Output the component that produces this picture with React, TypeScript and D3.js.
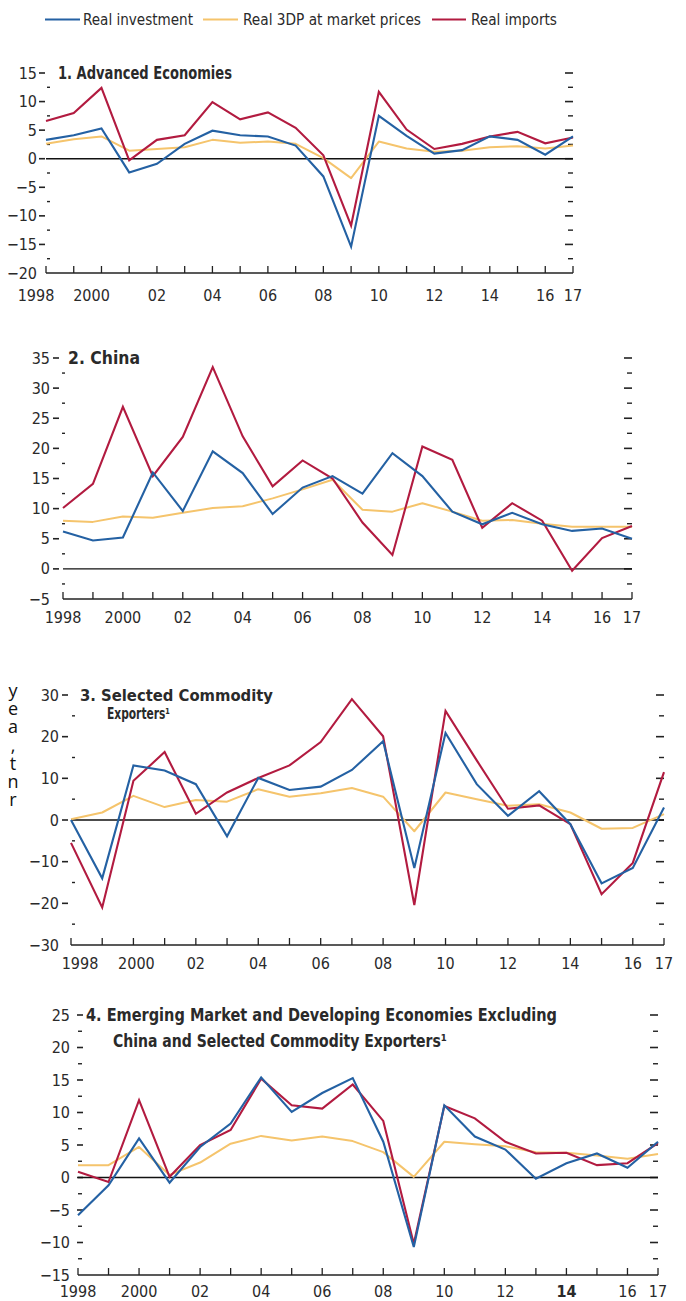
import React from "react";
import * as d3 from "d3";

// ---- Data (annual percent change) ----
const YEARS = [1998, 1999, 2000, 2001, 2002, 2003, 2004, 2005, 2006, 2007, 2008, 2009, 2010, 2011, 2012, 2013, 2014, 2015, 2016, 2017];

const X_TICK_LABELS: [number, string][] = [
  [1998, "1998"], [2000, "2000"], [2002, "02"], [2004, "04"], [2006, "06"],
  [2008, "08"], [2010, "10"], [2012, "12"], [2014, "14"], [2016, "16"], [2017, "17"],
];

const SERIES_NAMES = ["Real investment", "Real GDP at market prices", "Real imports"];
const LEGEND_LABELS = ["Real investment", "Real 3DP at market prices", "Real imports"];

// 1. Advanced Economies
const ADV_INVESTMENT = [3.3, 4.1, 5.3, -2.4, -0.9, 2.6, 4.9, 4.1, 3.9, 2.3, -3.1, -15.4, 7.5, 4.0, 0.9, 1.5, 3.9, 3.3, 0.7, 3.9];
const ADV_GDP = [2.6, 3.4, 3.9, 1.4, 1.7, 2.0, 3.3, 2.8, 3.0, 2.6, 0.1, -3.4, 3.0, 1.8, 1.2, 1.4, 2.0, 2.2, 1.8, 2.3];
const ADV_IMPORTS = [6.6, 8.0, 12.4, -0.3, 3.3, 4.1, 9.9, 6.9, 8.1, 5.4, 0.6, -11.7, 11.7, 5.1, 1.7, 2.6, 3.9, 4.7, 2.7, 3.7];

// 2. China
const CHN_INVESTMENT = [6.2, 4.7, 5.2, 16.0, 9.6, 19.5, 15.9, 9.1, 13.5, 15.4, 12.5, 19.2, 15.4, 9.5, 7.4, 9.3, 7.4, 6.3, 6.7, 5.0];
const CHN_GDP = [8.0, 7.8, 8.7, 8.5, 9.3, 10.1, 10.4, 11.7, 13.2, 14.8, 9.8, 9.5, 10.9, 9.5, 8.0, 8.1, 7.5, 7.0, 7.0, 7.0];
const CHN_IMPORTS = [10.1, 14.1, 26.9, 15.4, 21.9, 33.5, 22.0, 13.7, 18.0, 15.0, 7.7, 2.3, 20.3, 18.1, 6.8, 10.9, 8.0, -0.3, 5.1, 7.1];

// 3. Selected Commodity Exporters
const CMD_INVESTMENT = [0.0, -14.0, 13.1, 11.9, 8.6, -3.9, 10.1, 7.2, 8.0, 12.0, 18.9, -11.5, 20.9, 8.6, 1.0, 6.9, -1.0, -15.2, -11.5, 3.0];
const CMD_GDP = [0.2, 1.8, 5.8, 3.1, 4.8, 4.4, 7.4, 5.6, 6.4, 7.7, 5.6, -2.7, 6.6, 5.0, 3.4, 3.8, 1.8, -2.1, -1.9, 1.4];
const CMD_IMPORTS = [-5.5, -21.0, 9.4, 16.3, 1.5, 6.6, 10.1, 13.1, 18.7, 29.0, 20.1, -20.4, 26.2, 14.3, 2.7, 3.5, -1.0, -17.8, -10.3, 11.5];

// 4. EMDEs excluding China and selected commodity exporters
const EMD_INVESTMENT = [-5.8, -1.2, 6.0, -0.8, 4.7, 8.3, 15.4, 10.1, 13.0, 15.3, 5.5, -10.7, 11.1, 6.3, 4.3, -0.2, 2.2, 3.7, 1.5, 5.5];
const EMD_GDP = [1.9, 1.9, 4.7, 0.4, 2.3, 5.2, 6.4, 5.7, 6.3, 5.6, 3.9, 0.1, 5.5, 5.1, 4.8, 3.9, 3.8, 3.4, 2.9, 3.6];
const EMD_IMPORTS = [0.9, -0.7, 11.9, 0.1, 5.0, 7.3, 15.2, 11.1, 10.6, 14.3, 8.7, -10.2, 11.0, 9.1, 5.5, 3.7, 3.8, 1.9, 2.2, 5.3];

// ---- Styling ----
const COLORS = { investment: "#2461a3", gdp: "#f5c46c", imports: "#b21b40" };
const NARROW = "'Liberation Sans Narrow', 'DejaVu Sans Condensed', 'Roboto Condensed', 'Liberation Sans', Arial, sans-serif";

type Panel = {
  key: string;
  investment: number[];
  gdp: number[];
  imports: number[];
  domain: [number, number];
  major: number;
  minor: number;
  left: number;
  right: number;
  top: number;
  bottom: number;
  title: { text: string; x: number; y: number; w: number; size: number }[];
  majorTick: [number, number];
  minorTick: [number, number];
  labelEnd: number;
  xLabelY: number;
  xLabelShift: Record<number, number>;
  boldLabels: number[];
};

const PANELS: Panel[] = [
  {
    key: "adv",
    investment: ADV_INVESTMENT, gdp: ADV_GDP, imports: ADV_IMPORTS,
    domain: [-20, 15], major: 5, minor: 2.5,
    left: 46, right: 573, top: 73, bottom: 273,
    title: [{ text: "1. Advanced Economies", x: 58, y: 78.5, w: 174, size: 17 }],
    majorTick: [-7, -1], minorTick: [1, 4], labelEnd: -9,
    xLabelY: 301, xLabelShift: { 1998: -10, 2000: -10 }, boldLabels: [],
  },
  {
    key: "chn",
    investment: CHN_INVESTMENT, gdp: CHN_GDP, imports: CHN_IMPORTS,
    domain: [-5, 35], major: 5, minor: 2.5,
    left: 63, right: 632, top: 358, bottom: 599,
    title: [{ text: "2. China", x: 68, y: 364, w: 72, size: 17 }],
    majorTick: [-10, -4], minorTick: [-1, 2], labelEnd: -13,
    xLabelY: 623, xLabelShift: {}, boldLabels: [],
  },
  {
    key: "cmd",
    investment: CMD_INVESTMENT, gdp: CMD_GDP, imports: CMD_IMPORTS,
    domain: [-30, 30], major: 10, minor: 5,
    left: 71, right: 664, top: 695, bottom: 945,
    title: [
      { text: "3. Selected Commodity", x: 80, y: 700.5, w: 193, size: 16 },
      { text: "Exporters\u00B9", x: 107, y: 719, w: 63, size: 16 },
    ],
    majorTick: [-9, -3], minorTick: [1, 4], labelEnd: -12,
    xLabelY: 969, xLabelShift: { 1998: 9, 2000: 3 }, boldLabels: [],
  },
  {
    key: "emd",
    investment: EMD_INVESTMENT, gdp: EMD_GDP, imports: EMD_IMPORTS,
    domain: [-15, 25], major: 5, minor: 2.5,
    left: 78, right: 658, top: 1015, bottom: 1275,
    title: [
      { text: "4. Emerging Market and Developing Economies Excluding", x: 86, y: 1021, w: 471, size: 17 },
      { text: "China and Selected Commodity Exporters\u00B9", x: 113, y: 1047, w: 334, size: 17 },
    ],
    majorTick: [-1, 5], minorTick: [0, 4], labelEnd: -8,
    xLabelY: 1297, xLabelShift: {}, boldLabels: [2014],
  },
];

// Right-hand ends of a neighbouring text column, one glyph per line
const SIDE_TEXT = "yea,tnr";

const fmt = (v: number) => (v < 0 ? "\u2212" + Math.abs(v) : String(v));

function ChartPanel({ p }: { p: Panel }) {
  const x = d3.scaleLinear().domain([YEARS[0], YEARS[YEARS.length - 1]]).range([p.left, p.right]);
  const y = d3.scaleLinear().domain(p.domain).range([p.bottom, p.top]);
  const line = d3
    .line<[number, number]>()
    .x((d) => x(d[0]))
    .y((d) => y(d[1]));
  const pts = (vals: number[]) => YEARS.map((yr, i) => [yr, vals[i]] as [number, number]);

  const majors = d3.range(p.domain[0], p.domain[1] + 0.001, p.major);
  const minors = d3.range(p.domain[0] + p.minor, p.domain[1], p.major);

  return (
    <g>
      {/* left ticks and labels */}
      {majors.map((v) => (
        <g key={"ml" + v}>
          {v !== p.domain[0] && (
            <line x1={p.left + p.majorTick[0]} x2={p.left + p.majorTick[1]} y1={y(v)} y2={y(v)} stroke="#222" strokeWidth={1.6} />
          )}
          <text x={p.left + p.labelEnd} y={y(v) + 5.5} textAnchor="end" fontFamily={NARROW} fontSize={16} fill="#2a2a2a">
            {fmt(v)}
          </text>
        </g>
      ))}
      {minors.map((v) => (
        <line key={"nl" + v} x1={p.left + p.minorTick[0]} x2={p.left + p.minorTick[1]} y1={y(v)} y2={y(v)} stroke="#222" strokeWidth={1.4} />
      ))}
      {/* right ticks */}
      {majors.filter((v) => v !== p.domain[0]).map((v) => (
        <line key={"mr" + v} x1={p.right - 8} x2={p.right} y1={y(v)} y2={y(v)} stroke="#222" strokeWidth={1.6} />
      ))}
      {minors.map((v) => (
        <line key={"nr" + v} x1={p.right - 5} x2={p.right} y1={y(v)} y2={y(v)} stroke="#222" strokeWidth={1.4} />
      ))}
      {/* x axis */}
      <line x1={p.left} x2={p.right} y1={p.bottom} y2={p.bottom} stroke="#222" strokeWidth={1.5} />
      {YEARS.map((yr) => (
        <line key={"xt" + yr} x1={x(yr)} x2={x(yr)} y1={p.bottom} y2={p.bottom - 7} stroke="#222" strokeWidth={1.3} />
      ))}
      {X_TICK_LABELS.map(([yr, t]) => (
        <text
          key={"xl" + yr}
          x={x(yr) + (p.xLabelShift[yr] || 0)}
          y={p.xLabelY}
          textAnchor="middle"
          fontFamily={NARROW}
          fontSize={16}
          fontWeight={p.boldLabels.includes(yr) ? "bold" : "normal"}
          fill="#2a2a2a"
        >
          {t}
        </text>
      ))}
      {/* zero line */}
      <line x1={p.left} x2={p.right} y1={y(0)} y2={y(0)} stroke="#111" strokeWidth={1.4} />
      {/* series */}
      <path d={line(pts(p.gdp)) || ""} fill="none" stroke={COLORS.gdp} strokeWidth={2} strokeLinejoin="round" />
      <path d={line(pts(p.imports)) || ""} fill="none" stroke={COLORS.imports} strokeWidth={2.1} strokeLinejoin="miter" />
      <path d={line(pts(p.investment)) || ""} fill="none" stroke={COLORS.investment} strokeWidth={2.1} strokeLinejoin="miter" />
      {/* title */}
      {p.title.map((t, i) => (
        <text
          key={"t" + i}
          x={t.x}
          y={t.y}
          fontFamily={NARROW}
          fontSize={t.size}
          fontWeight="bold"
          fill="#2a2a2a"
          textLength={t.w}
          lengthAdjust="spacingAndGlyphs"
        >
          {t.text}
        </text>
      ))}
    </g>
  );
}

function Legend() {
  const items = [
    { color: COLORS.investment, label: LEGEND_LABELS[0], x0: 45, x1: 80, tx: 83, tw: 110 },
    { color: COLORS.gdp, label: LEGEND_LABELS[1], x0: 203, x1: 238, tx: 243, tw: 178 },
    { color: COLORS.imports, label: LEGEND_LABELS[2], x0: 432, x1: 466, tx: 471, tw: 86 },
  ];
  return (
    <g>
      {items.map((it, i) => (
        <g key={SERIES_NAMES[i]}>
          <line x1={it.x0} x2={it.x1} y1={19.5} y2={19.5} stroke={it.color} strokeWidth={2.2} />
          <text
            x={it.tx}
            y={25}
            fontFamily={NARROW}
            fontSize={15}
            fill="#2a2a2a"
            textLength={it.tw}
            lengthAdjust="spacingAndGlyphs"
          >
            {it.label}
          </text>
        </g>
      ))}
    </g>
  );
}

export default function App() {
  return (
    <svg
      width={686}
      height={1301}
      viewBox="0 0 686 1301"
      style={{ position: "absolute", left: 0, top: 0, background: "#fff" }}
    >
      <rect x={0} y={0} width={686} height={1301} fill="#fff" />
      <Legend />
      {PANELS.map((p) => (
        <ChartPanel key={p.key} p={p} />
      ))}
      <text
        x={13}
        y={678}
        fontFamily="'Open Sans', 'Noto Sans', sans-serif"
        fontSize={18}
        fill="#111"
        style={{ writingMode: "vertical-rl", textOrientation: "upright", letterSpacing: "-5.8px" }}
      >
        {SIDE_TEXT}
      </text>
    </svg>
  );
}
